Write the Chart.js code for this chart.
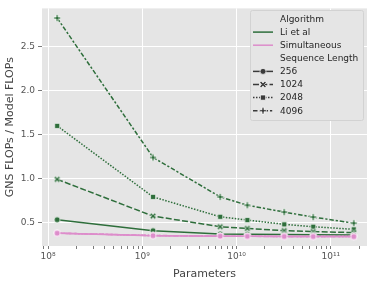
<!DOCTYPE html>
<html lang="en">
<head>
  <meta charset="UTF-8">
  <title>GNS FLOPs / Model FLOPs</title>
  <script src="https://cdn.jsdelivr.net/npm/chart.js"></script>
  <style>
    html, body { margin: 0; padding: 0; background: #ffffff; }
    #wrap { width: 374px; height: 286px; }
  </style>
</head>
<body>
  <div id="wrap"><canvas id="gnsChart" width="374" height="286"></canvas></div>
  <script>
    // model sizes (x axis)
    const params = [1.25e8, 1.3e9, 6.7e9, 1.3e10, 3.2e10, 6.5e10, 1.75e11];
    const seqLengths = ['256', '1024', '2048', '4096'];
    const algorithms = ['Li et al', 'Simultaneous'];

    const liEtAl256  = [0.53, 0.405, 0.368, 0.364, 0.360, 0.358, 0.356];
    const liEtAl1024 = [0.99, 0.571, 0.450, 0.430, 0.405, 0.394, 0.383];
    const liEtAl2048 = [1.60, 0.790, 0.563, 0.526, 0.477, 0.450, 0.420];
    const liEtAl4096 = [2.83, 1.240, 0.790, 0.695, 0.617, 0.560, 0.490];

    const simul256  = [0.376, 0.348, 0.342, 0.340, 0.339, 0.338, 0.337];
    const simul1024 = [0.376, 0.349, 0.342, 0.340, 0.339, 0.338, 0.337];
    const simul2048 = [0.377, 0.349, 0.343, 0.341, 0.339, 0.338, 0.337];
    const simul4096 = [0.377, 0.350, 0.343, 0.341, 0.340, 0.338, 0.338];

    const yTicks = [0.5, 1.0, 1.5, 2.0, 2.5];
    const xDecades = [8, 9, 10, 11];

    const GREEN = '#2e6e3b';
    const PINK = '#dd8dcb';
    const KEY = '#3a3a3a';
    const BG = '#e5e5e5';

    const dashes = {
      '256': [],
      '1024': [6, 2.25],
      '2048': [1.5, 1.5],
      '4096': [4.5, 1.9, 2.25, 1.9]
    };
    const shapes = { '256': 'o', '1024': 'X', '2048': 's', '4096': 'P' };

    function plusPath(ctx, cx, cy, r, w, rot) {
      const pts = [[-w,-r],[w,-r],[w,-w],[r,-w],[r,w],[w,w],[w,r],[-w,r],[-w,w],[-r,w],[-r,-w],[-w,-w]];
      ctx.beginPath();
      pts.forEach(function (p, i) {
        const x = cx + p[0] * Math.cos(rot) - p[1] * Math.sin(rot);
        const y = cy + p[0] * Math.sin(rot) + p[1] * Math.cos(rot);
        if (i === 0) ctx.moveTo(x, y); else ctx.lineTo(x, y);
      });
      ctx.closePath();
    }

    function drawMarker(ctx, shape, color, cx, cy) {
      ctx.save();
      ctx.fillStyle = color;
      ctx.strokeStyle = '#ffffff';
      ctx.lineWidth = 0.7;
      ctx.setLineDash([]);
      if (shape === 'o') {
        ctx.beginPath(); ctx.arc(cx, cy, 3, 0, Math.PI * 2);
      } else if (shape === 's') {
        ctx.beginPath(); ctx.rect(cx - 2.6, cy - 2.6, 5.2, 5.2);
      } else if (shape === 'X') {
        plusPath(ctx, cx, cy, 3.6, 1.0, Math.PI / 4);
      } else {
        plusPath(ctx, cx, cy, 3.4, 1.0, 0);
      }
      ctx.fill(); ctx.stroke();
      ctx.restore();
    }

    function markerImage(shape, color) {
      const c = document.createElement('canvas');
      c.width = 10; c.height = 10;
      drawMarker(c.getContext('2d'), shape, color, 5, 5);
      return c;
    }

    function series(vals) {
      return vals.map(function (v, i) { return { x: params[i], y: v }; });
    }

    const simulValues = { '256': simul256, '1024': simul1024, '2048': simul2048, '4096': simul4096 };
    const liValues = { '256': liEtAl256, '1024': liEtAl1024, '2048': liEtAl2048, '4096': liEtAl4096 };

    const datasets = [];
    [[algorithms[1], simulValues, PINK], [algorithms[0], liValues, GREEN]].forEach(function (a) {
      seqLengths.forEach(function (s) {
        datasets.push({
          label: a[0] + ' ' + s,
          data: series(a[1][s]),
          borderColor: a[2],
          backgroundColor: a[2],
          borderWidth: 1.5,
          borderDash: dashes[s],
          pointStyle: markerImage(shapes[s], a[2]),
          pointRadius: 4,
          tension: 0
        });
      });
    });

    const bgPlugin = {
      id: 'plotBg',
      beforeDraw: function (chart) {
        const a = chart.chartArea, ctx = chart.ctx;
        ctx.save();
        ctx.fillStyle = BG;
        ctx.fillRect(a.left, a.top, a.right - a.left, a.bottom - a.top);
        ctx.restore();
      }
    };

    const legendPlugin = {
      id: 'gnsLegend',
      afterDraw: function (chart) {
        const ctx = chart.ctx;
        const x0 = 250, y0 = 10, w = 113, h = 110;
        ctx.save();
        ctx.fillStyle = BG;
        ctx.strokeStyle = '#d2d2d2';
        ctx.lineWidth = 1;
        ctx.beginPath();
        ctx.roundRect(x0 + 0.5, y0 + 0.5, w, h, 2);
        ctx.fill(); ctx.stroke();
        const rows = [
          { text: 'Algorithm' },
          { text: algorithms[0], color: GREEN },
          { text: algorithms[1], color: PINK },
          { text: 'Sequence Length' }
        ];
        seqLengths.forEach(function (s) { rows.push({ text: s, color: KEY, dash: dashes[s], shape: shapes[s] }); });
        ctx.font = '9px "DejaVu Sans"';
        ctx.textBaseline = 'middle';
        ctx.textAlign = 'left';
        rows.forEach(function (r, i) {
          const y = 19 + i * 13.1;
          if (r.color) {
            ctx.strokeStyle = r.color;
            ctx.lineWidth = 1.5;
            ctx.setLineDash(r.dash || []);
            ctx.beginPath(); ctx.moveTo(253, y); ctx.lineTo(273, y); ctx.stroke();
            ctx.setLineDash([]);
            if (r.shape) drawMarker(ctx, r.shape, r.color, 263, y);
          }
          ctx.fillStyle = '#262626';
          ctx.fillText(r.text, 280, y + 0.5);
        });
        ctx.restore();
      }
    };

    const sup = { '8': '\u2078', '9': '\u2079', '1': '\u00b9', '0': '\u2070' };
    function decadeLabel(e) {
      return '10' + String(e).split('').map(function (d) { return sup[d]; }).join('');
    }

    const xMin = Math.pow(10, 7.936), xMax = Math.pow(10, 11.383);

    new Chart(document.getElementById('gnsChart').getContext('2d'), {
      type: 'line',
      data: { datasets: datasets },
      options: {
        responsive: false,
        animation: false,
        layout: { padding: { top: 6, right: 7, left: 0, bottom: 0 } },
        plugins: { legend: { display: false }, tooltip: { enabled: false } },
        scales: {
          x: {
            type: 'logarithmic',
            min: xMin,
            max: xMax,
            afterBuildTicks: function (axis) {
              const t = [];
              for (let e = 7; e <= 11; e++) {
                for (let k = 1; k <= 9; k++) {
                  const v = k * Math.pow(10, e);
                  if (v >= xMin && v <= xMax) t.push({ value: v, major: k === 1 });
                }
              }
              axis.ticks = t;
            },
            afterFit: function (axis) { axis.height = 40; },
            border: { display: false },
            grid: {
              color: function (c) { return c.tick && xDecades.some(function (e) { return Math.abs(c.tick.value - Math.pow(10, e)) < 1; }) ? '#ffffff' : 'rgba(0,0,0,0)'; },
              lineWidth: 1,
              tickColor: '#7a7a7a',
              tickLength: 3,
              drawTicks: true
            },
            ticks: {
              autoSkip: false,
              maxRotation: 0,
              padding: 2,
              color: '#555555',
              font: { family: 'DejaVu Sans', size: 9 },
              callback: function (v) {
                const e = Math.round(Math.log10(v));
                return (Math.abs(v - Math.pow(10, e)) < 1 && xDecades.indexOf(e) >= 0) ? decadeLabel(e) : '';
              }
            },
            title: {
              display: true,
              text: 'Parameters',
              color: '#444444',
              font: { family: 'DejaVu Sans', size: 11 },
              padding: { top: 0, bottom: 5 }
            }
          },
          y: {
            min: 0.23,
            max: 2.94,
            afterBuildTicks: function (axis) {
              axis.ticks = yTicks.map(function (v) { return { value: v }; });
            },
            afterFit: function (axis) { axis.width = 42; },
            border: { display: false },
            grid: {
              color: '#ffffff',
              lineWidth: 1,
              tickColor: '#7a7a7a',
              tickLength: 4
            },
            ticks: {
              padding: 3,
              color: '#555555',
              font: { family: 'DejaVu Sans', size: 9 },
              callback: function (v) { return Number(v).toFixed(1); }
            },
            title: {
              display: true,
              text: 'GNS FLOPs / Model FLOPs',
              color: '#444444',
              font: { family: 'DejaVu Sans', size: 11 },
              padding: { top: 4, bottom: 0 }
            }
          }
        }
      },
      plugins: [bgPlugin, legendPlugin]
    });
  </script>
</body>
</html>
